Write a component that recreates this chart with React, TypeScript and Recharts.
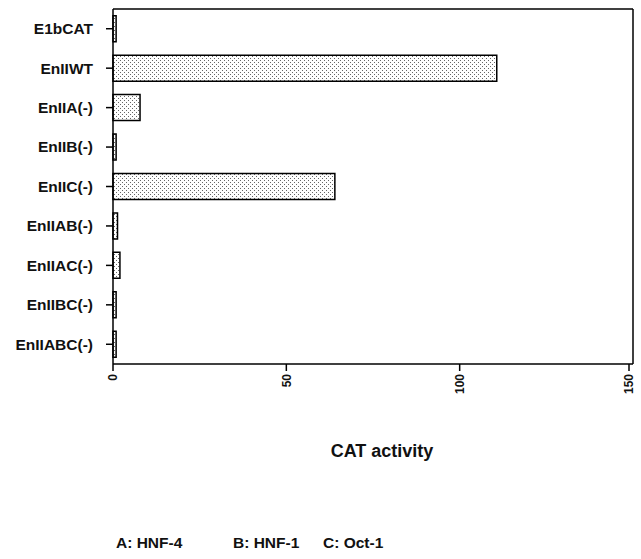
import { BarChart, Bar, XAxis, YAxis, Legend, CartesianGrid } from "recharts"

const constructs = ["E1bCAT", "EnIIWT", "EnIIA(-)", "EnIIB(-)", "EnIIC(-)", "EnIIAB(-)", "EnIIAC(-)", "EnIIBC(-)", "EnIIABC(-)"]
const catActivity = [0.9, 110.7, 7.8, 0.9, 64, 1.3, 2, 0.9, 0.9]
const xTicks = [0, 50, 100, 150]
const factors = ["A: HNF-4", "B: HNF-1", "C: Oct-1"]

const data = constructs.map((name, i) => ({ name, value: catActivity[i] }))

const font = "'Liberation Sans', Arial, Helvetica, sans-serif"
const TICK = 7
const X_MARGIN = 3
const Y_MARGIN = 13

// rotated tick labels, reading bottom to top, with their tick mark
const RotatedTick = (props: any) => {
  const { x, y, payload } = props
  return (
    <g transform={`translate(${x},${y})`}>
      <line x1={0} x2={0} y1={-X_MARGIN - TICK} y2={-X_MARGIN} stroke="#000" strokeWidth={1.5} />
      <text
        x={0}
        y={0}
        dy="0.35em"
        textAnchor="end"
        transform="rotate(-90)"
        fill="#111"
        fontSize={12}
        fontWeight="bold"
        fontFamily={font}
      >
        {payload.value}
      </text>
    </g>
  )
}

const NameTick = (props: any) => {
  const { x, y, payload } = props
  return (
    <g transform={`translate(${x},${y})`}>
      <line x1={Y_MARGIN} x2={Y_MARGIN + TICK} y1={0} y2={0} stroke="#000" strokeWidth={1.5} />
      <text
        x={0}
        y={0}
        dy="0.35em"
        textAnchor="end"
        fill="#111"
        fontSize={15.5}
        fontWeight="bold"
        fontFamily={font}
      >
        {payload.value}
      </text>
    </g>
  )
}

const FactorLegend = () => (
  <div style={{ fontFamily: font, fontWeight: "bold", fontSize: 15.5, color: "#111", whiteSpace: "nowrap" }}>
    <span style={{ display: "inline-block", width: 117 }}>{factors[0]}</span>
    <span style={{ display: "inline-block", width: 90 }}>{factors[1]}</span>
    <span>{factors[2]}</span>
  </div>
)

export default function App() {
  return (
    <div style={{ position: "absolute", left: 0, top: 0, width: 641, height: 559, background: "#fff" }}>
      <BarChart
        width={641}
        height={559}
        data={data}
        layout="vertical"
        margin={{ top: 9, right: 8, left: 8, bottom: 147 }}
        barCategoryGap="17%"
      >
        <defs>
          <pattern id="dots" patternUnits="userSpaceOnUse" width={4} height={4}>
            <rect width={4} height={4} fill="#fff" />
            <rect x={0} y={0} width={1} height={1} fill="#666" />
            <rect x={2} y={2} width={1} height={1} fill="#666" />
          </pattern>
        </defs>
        {/* frame: top and right edges of the plot box */}
        <CartesianGrid
          stroke="#000"
          strokeWidth={1.5}
          horizontalCoordinatesGenerator={({ offset }: any) => [offset.top]}
          verticalCoordinatesGenerator={({ offset }: any) => [offset.left + offset.width]}
        />
        <XAxis
          type="number"
          domain={[0, 150]}
          ticks={xTicks}
          height={30}
          stroke="#000"
          strokeWidth={1.5}
          tickSize={TICK}
          tickMargin={X_MARGIN}
          tick={<RotatedTick />}
          tickLine={false}
          label={{
            value: "CAT activity",
            position: "bottom",
            offset: 50,
            dx: 9,
            fill: "#111",
            fontSize: 18,
            fontWeight: "bold",
            fontFamily: font,
          }}
        />
        <YAxis
          type="category"
          dataKey="name"
          width={105}
          stroke="#000"
          strokeWidth={1.5}
          tickSize={TICK}
          tickMargin={Y_MARGIN}
          tickLine={false}
          tick={<NameTick />}
        />
        <Bar dataKey="value" fill="url(#dots)" stroke="#000" strokeWidth={1.5} isAnimationActive={false} />
        <Legend
          content={<FactorLegend />}
          wrapperStyle={{ position: "absolute", left: 116, top: 534, width: 320, bottom: "auto" }}
        />
      </BarChart>
    </div>
  )
}
